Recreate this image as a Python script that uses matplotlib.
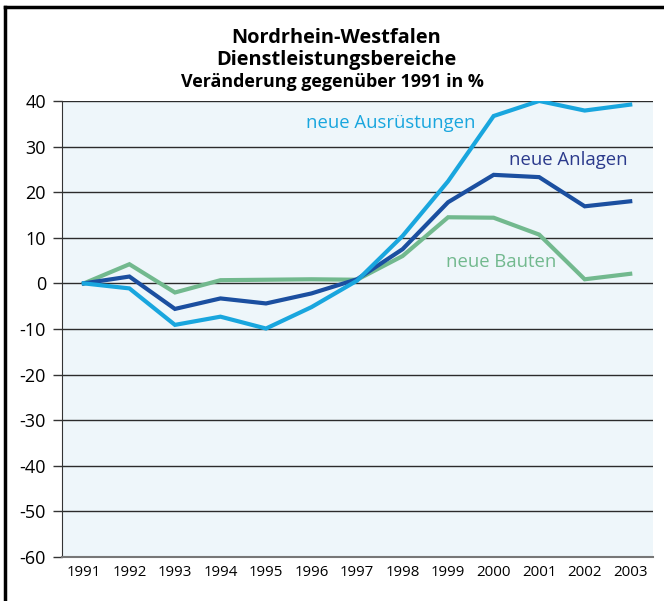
import matplotlib.pyplot as plt
from matplotlib.lines import Line2D

# data
years = [1991, 1992, 1993, 1994, 1995, 1996, 1997, 1998, 1999, 2000, 2001, 2002, 2003]
ausruestungen = [0, -1.1, -9.1, -7.3, -9.9, -5.2, 0.6, 10.4, 22.4, 36.7, 40.0, 37.9, 39.2]
anlagen = [0, 1.5, -5.6, -3.3, -4.4, -2.2, 0.9, 7.5, 17.8, 23.8, 23.3, 16.9, 18.0]
bauten = [0, 4.2, -2.0, 0.7, 0.8, 0.9, 0.8, 6.0, 14.5, 14.4, 10.7, 0.9, 2.1]
y_ticks = [40, 30, 20, 10, 0, -10, -20, -30, -40, -50, -60]

c_ausr = '#19a6de'
c_anl = '#1b4fa0'
c_bau = '#72b98e'

plt.rcParams['font.family'] = ['Open Sans', 'DejaVu Sans']

fig = plt.figure(figsize=(6.64, 6.01), dpi=100)
ax = fig.add_axes([0.0934, 0.0732, 0.89, 0.7588])
ax.set_facecolor('#eef6fa')

for y in y_ticks[:-1]:
    ax.axhline(y, color='#2b2b2b', lw=1.0, zorder=1)

ax.plot(years, bauten, color=c_bau, lw=3, zorder=3, solid_joinstyle='miter')
ax.plot(years, anlagen, color=c_anl, lw=3, zorder=4, solid_joinstyle='miter')
ax.plot(years, ausruestungen, color=c_ausr, lw=3, zorder=5, solid_joinstyle='miter')

ax.text(1997.73, 35.1, 'neue Ausrüstungen', color=c_ausr, fontsize=13.3,
        ha='center', va='center')
ax.text(2001.64, 27.0, 'neue Anlagen', color='#2b3a8c', fontsize=13.3,
        ha='center', va='center')
ax.text(2000.16, 4.6, 'neue Bauten', color=c_bau, fontsize=13.3,
        ha='center', va='center')

ax.set_xlim(1990.52, 2003.5)
ax.set_ylim(-60, 40)
ax.set_yticks(y_ticks)
ax.set_yticklabels([str(v) for v in y_ticks], fontsize=13)
ax.set_xticks(years)
ax.set_xticklabels([str(v) for v in years], fontsize=10.8)
ax.tick_params(axis='y', length=6.5, width=1, color='#333333', pad=5)
ax.tick_params(axis='x', length=0, pad=6)

for s in ['top', 'right']:
    ax.spines[s].set_visible(False)
ax.spines['left'].set_color('#333333')
ax.spines['bottom'].set_color('#777777')
ax.spines['bottom'].set_linewidth(1.5)

fig.text(0.506, 0.928, 'Nordrhein-Westfalen', ha='center', va='baseline',
         fontsize=14.4, fontweight='bold')
fig.text(0.506, 0.892, 'Dienstleistungsbereiche', ha='center', va='baseline',
         fontsize=14.4, fontweight='bold')
fig.text(0.501, 0.856, 'Veränderung gegenüber 1991 in %', ha='center', va='baseline',
         fontsize=12.9, fontweight='bold')

# outer frame (top and left)
fig.add_artist(Line2D([5 / 664, 1.0], [1 - 7 / 601, 1 - 7 / 601],
                      transform=fig.transFigure, color='black', lw=2.5))
fig.add_artist(Line2D([5 / 664, 5 / 664], [0.0, 1 - 7 / 601],
                      transform=fig.transFigure, color='black', lw=2.5))

fig.savefig('out.png', dpi=100)
